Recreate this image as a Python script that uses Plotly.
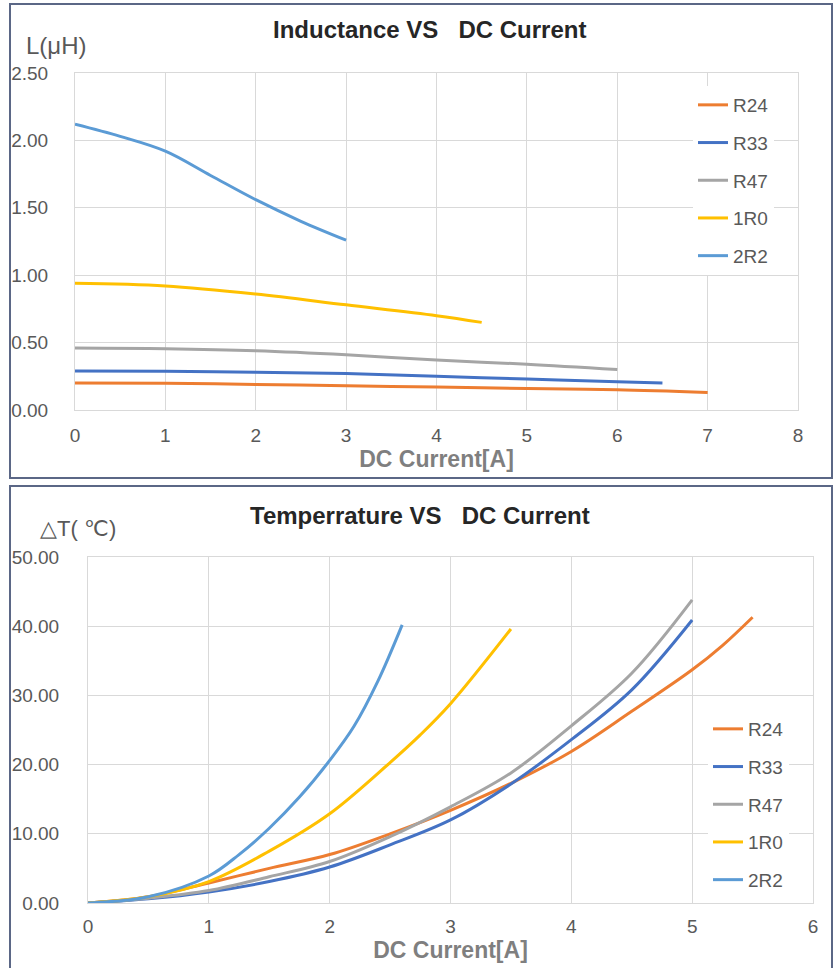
import plotly.graph_objects as go

W, H = 834, 968

series_names = ["R24", "R33", "R47", "1R0", "2R2"]
colors = ["#ED7D31", "#4472C4", "#A5A5A5", "#FFC000", "#5B9BD5"]

# Inductance vs DC current
ind_x = {
    "R24": [0, 1, 2, 3, 4, 5, 6, 7],
    "R33": [0, 1, 2, 3, 4, 5, 6, 6.5],
    "R47": [0, 1, 2, 3, 4, 5, 6],
    "1R0": [0, 1, 2, 3, 4, 4.5],
    "2R2": [0, 0.5, 1, 1.5, 2, 2.5, 3],
}
ind_y = {
    "R24": [0.20, 0.198, 0.19, 0.18, 0.17, 0.16, 0.15, 0.13],
    "R33": [0.29, 0.287, 0.28, 0.27, 0.25, 0.23, 0.21, 0.20],
    "R47": [0.46, 0.455, 0.44, 0.41, 0.37, 0.34, 0.30],
    "1R0": [0.94, 0.92, 0.86, 0.78, 0.70, 0.65],
    "2R2": [2.12, 2.03, 1.92, 1.74, 1.56, 1.40, 1.26],
}

# Temperature rise vs DC current
tmp_x = {
    "R24": [0, 0.5, 1, 1.5, 2, 2.5, 3, 3.5, 4, 4.5, 5, 5.25, 5.5],
    "R33": [0, 0.5, 1, 1.5, 2, 2.5, 3, 3.5, 4, 4.5, 5],
    "R47": [0, 0.5, 1, 1.5, 2, 2.5, 3, 3.5, 4, 4.5, 5],
    "1R0": [0, 0.5, 1, 1.5, 2, 2.5, 2.75, 3, 3.5],
    "2R2": [0, 0.5, 1, 1.25, 1.5, 1.75, 2, 2.2, 2.4, 2.6],
}
tmp_y = {
    "R24": [0, 0.9, 2.9, 5.0, 7.0, 10.0, 13.4, 17.3, 21.9, 27.7, 33.7, 37.2, 41.3],
    "R33": [0, 0.6, 1.6, 3.1, 5.2, 8.4, 12.0, 17.2, 23.6, 30.8, 40.9],
    "R47": [0, 0.7, 1.8, 3.8, 6.0, 9.6, 13.9, 18.8, 25.6, 33.2, 43.8],
    "1R0": [0, 0.9, 3.1, 7.5, 12.9, 20.3, 24.3, 28.8, 39.6],
    "2R2": [0, 0.9, 3.9, 7.0, 10.8, 15.3, 20.6, 25.5, 32.1, 40.2],
}

ind_xticks = [0, 1, 2, 3, 4, 5, 6, 7, 8]
ind_yticks = [0, 0.5, 1.0, 1.5, 2.0, 2.5]
tmp_xticks = [0, 1, 2, 3, 4, 5, 6]
tmp_yticks = [0, 10, 20, 30, 40, 50]

ind_title = "Inductance VS   DC Current"
tmp_title = "Temperrature VS   DC Current"
x_title = "DC Current[A]"
ind_ylabel = "L(μH)"
tmp_ylabel = "△T( ℃)"

def px_x(p):
    return p / W

def px_y(p):
    return 1 - p / H

FONT = "Liberation Sans, Arial"
TICKC = "#595959"
GRID = "#D9D9D9"

fig = go.Figure()
for i, n in enumerate(series_names):
    fig.add_trace(go.Scatter(x=ind_x[n], y=ind_y[n], mode="lines", name=n,
                             line=dict(color=colors[i], width=3, shape="spline", smoothing=1.0),
                             xaxis="x", yaxis="y", legend="legend", legendgroup="a" + n))
for i, n in enumerate(series_names):
    fig.add_trace(go.Scatter(x=tmp_x[n], y=tmp_y[n], mode="lines", name=n,
                             line=dict(color=colors[i], width=3, shape="spline", smoothing=1.0),
                             xaxis="x2", yaxis="y2", legend="legend2", legendgroup="b" + n))

axis_common = dict(showgrid=True, gridcolor=GRID, gridwidth=1, showline=True, linecolor=GRID,
                   mirror=True, zeroline=False, ticks="", automargin=False,
                   tickfont=dict(family=FONT, size=19, color=TICKC))

xtitle_font = dict(family=FONT, size=23, color="#7F7F7F", weight="bold")

fig.update_layout(
    width=W, height=H, margin=dict(l=0, r=0, t=0, b=0),
    paper_bgcolor="white", plot_bgcolor="white",
    xaxis=dict(domain=[px_x(75), px_x(798)], range=[0, 8], tickvals=ind_xticks, anchor="y",
               ticklabelstandoff=8,
               title=dict(text=x_title, font=xtitle_font, standoff=0), **axis_common),
    yaxis=dict(domain=[px_y(410), px_y(73)], range=[0, 2.5], tickvals=ind_yticks, tickformat=".2f",
               anchor="x", ticklabelstandoff=22, **axis_common),
    xaxis2=dict(domain=[px_x(88), px_x(813)], range=[0, 6], tickvals=tmp_xticks, anchor="y2",
                ticklabelstandoff=6,
                title=dict(text=x_title, font=xtitle_font, standoff=0), **axis_common),
    yaxis2=dict(domain=[px_y(903), px_y(557)], range=[0, 50], tickvals=tmp_yticks, tickformat=".2f",
                anchor="x2", ticklabelstandoff=24, **axis_common),
    legend=dict(x=px_x(693), y=px_y(86), xanchor="left", yanchor="top", bgcolor="white",
                font=dict(family=FONT, size=19, color=TICKC), tracegroupgap=10, itemwidth=30),
    legend2=dict(x=px_x(708), y=px_y(710), xanchor="left", yanchor="top", bgcolor="white",
                 font=dict(family=FONT, size=19, color=TICKC), tracegroupgap=10, itemwidth=30),
    shapes=[
        dict(type="rect", xref="paper", yref="paper", x0=px_x(10), x1=px_x(832), y0=px_y(478), y1=px_y(4),
             line=dict(color="#5B6786", width=2), layer="below"),
        dict(type="rect", xref="paper", yref="paper", x0=px_x(10), x1=px_x(832), y0=px_y(970), y1=px_y(486),
             line=dict(color="#5B6786", width=2), layer="below"),
    ],
    annotations=[
        dict(text="<b>" + ind_title + "</b>", x=px_x(429), y=px_y(30), xref="paper", yref="paper",
             showarrow=False, font=dict(family=FONT, size=24, color="#262626"), xanchor="center", yanchor="middle"),
        dict(text="<b>" + tmp_title + "</b>", x=px_x(420), y=px_y(515), xref="paper", yref="paper",
             showarrow=False, font=dict(family=FONT, size=24, color="#262626"), xanchor="center", yanchor="middle"),
        dict(text=ind_ylabel, x=px_x(24), y=px_y(45), xref="paper", yref="paper",
             showarrow=False, font=dict(family=FONT, size=24, color=TICKC), xanchor="left", yanchor="middle"),
        dict(text=tmp_ylabel, x=px_x(38), y=px_y(528), xref="paper", yref="paper",
             showarrow=False, font=dict(family=FONT, size=22, color=TICKC), xanchor="left", yanchor="middle"),
    ],
)

fig.write_html("out.html", config={"displayModeBar": False},
               post_script="document.body.style.margin='0';")
